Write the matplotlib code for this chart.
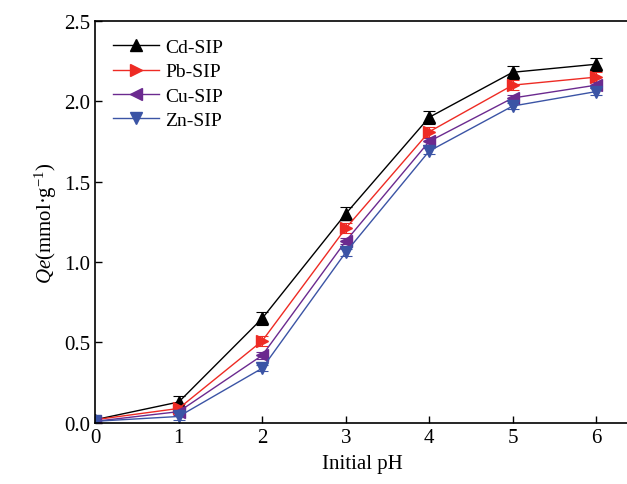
import numpy as np
import matplotlib

matplotlib.use('Agg')
import matplotlib.pyplot as plt

plt.rcParams['font.family'] = ['Liberation Serif', 'DejaVu Serif']
plt.rcParams['mathtext.fontset'] = 'custom'
plt.rcParams['mathtext.rm'] = 'Liberation Serif'
plt.rcParams['mathtext.it'] = 'Liberation Serif:italic'

ph = [0, 1, 2, 3, 4, 5, 6]
cd = [0.02, 0.13, 0.65, 1.30, 1.90, 2.18, 2.23]
pb = [0.02, 0.09, 0.51, 1.21, 1.81, 2.10, 2.15]
cu = [0.01, 0.07, 0.42, 1.13, 1.75, 2.02, 2.10]
zn = [0.01, 0.04, 0.34, 1.06, 1.69, 1.97, 2.06]
cd_err = [0.02, 0.04, 0.04, 0.04, 0.04, 0.04, 0.04]
pb_err = [0.02, 0.03, 0.03, 0.03, 0.03, 0.03, 0.03]
cu_err = [0.01, 0.02, 0.02, 0.02, 0.02, 0.02, 0.02]
zn_err = [0.01, 0.02, 0.02, 0.02, 0.02, 0.02, 0.02]

series = [
    ("Cd-SIP", cd, cd_err, "black", "^"),
    ("Pb-SIP", pb, pb_err, "#ee2b24", ">"),
    ("Cu-SIP", cu, cu_err, "#6b2a8f", "<"),
    ("Zn-SIP", zn, zn_err, "#3b54a5", "v"),
]

fig = plt.figure(figsize=(6.27, 4.85), dpi=100)
ax = fig.add_axes([0.152, 0.126, 0.852, 0.829])

handles = []
for name, y, err, c, m in series:
    eb = ax.errorbar(ph, y, yerr=err, color=c, marker=m, markersize=9,
                     linewidth=1.0, elinewidth=0.8, capsize=4, capthick=0.8,
                     label=name)
    handles.append(eb.lines[0])

ax.set_xlim(0, 6.4)
ax.set_ylim(0, 2.5)
ax.set_xticks(ph)
ax.set_yticks([0.0, 0.5, 1.0, 1.5, 2.0, 2.5])
ax.set_yticklabels(["0.0", "0.5", "1.0", "1.5", "2.0", "2.5"])
ax.tick_params(direction='in', length=5, width=1.0, labelsize=15)
ax.spines['right'].set_visible(False)
for s in ['left', 'bottom', 'top']:
    ax.spines[s].set_linewidth(1.2)

ax.set_xlabel("Initial pH", fontsize=15, labelpad=5)
ax.set_ylabel(r"$\mathit{Qe}$(mmol·g$^{-1}$)", fontsize=15, labelpad=4)

ax.legend(handles=handles, labels=[s[0] for s in series], loc='upper left',
          frameon=False, fontsize=14, handlelength=2.4, handletextpad=0.3,
          labelspacing=0.35, borderaxespad=0.5)

fig.savefig("out.png", dpi=100)
